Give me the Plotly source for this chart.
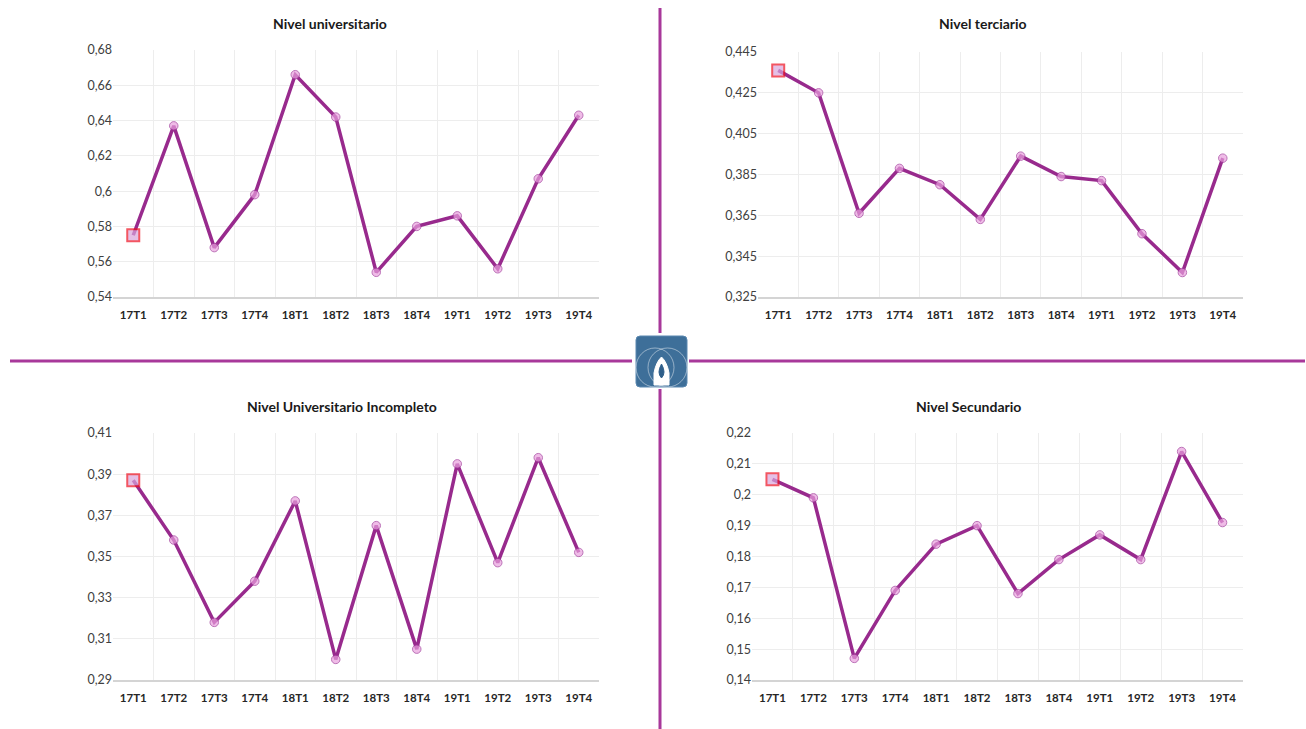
"""Four-panel line chart: ratio by education level, 2017-2019 quarters."""

import plotly.graph_objects as go

W, H = 1306, 729

quarters = ["17T1", "17T2", "17T3", "17T4", "18T1", "18T2",
            "18T3", "18T4", "19T1", "19T2", "19T3", "19T4"]

universitario = [0.575, 0.637, 0.568, 0.598, 0.666, 0.642,
                 0.554, 0.580, 0.586, 0.556, 0.607, 0.643]
terciario = [0.436, 0.425, 0.366, 0.388, 0.380, 0.363,
             0.394, 0.384, 0.382, 0.356, 0.337, 0.393]
univ_incompleto = [0.387, 0.358, 0.318, 0.338, 0.377, 0.300,
                   0.365, 0.305, 0.395, 0.347, 0.398, 0.352]
secundario = [0.205, 0.199, 0.147, 0.169, 0.184, 0.190,
              0.168, 0.179, 0.187, 0.179, 0.214, 0.191]

titles = ["Nivel universitario", "Nivel terciario",
          "Nivel Universitario Incompleto", "Nivel Secundario"]

PURPLE = "#982A8D"
DIVIDER = "#A8389A"


def px(x, y):
    """Pixel position -> paper coordinates."""
    return x / W, 1 - y / H


# panel boxes in pixels: left, right, top, bottom; y range; dtick
panels = [
    (universitario, (113, 599, 50, 297), (0.54, 0.68), 0.02, 0.54),
    (terciario, (758, 1243, 52, 297), (0.325, 0.445), 0.02, 0.325),
    (univ_incompleto, (113, 599, 433, 680), (0.29, 0.41), 0.02, 0.29),
    (secundario, (752, 1243, 433, 680), (0.14, 0.22), 0.01, 0.14),
]
title_pos = [(330, 23), (983, 23), (342, 406), (968, 406)]

fig = go.Figure()
n = len(quarters)
symbols = ["square"] + ["circle"] * (n - 1)
sizes = [12] + [8.5] * (n - 1)
fills = ["#D9A6DC"] + ["#E9A0DE"] * (n - 1)
edges = ["#EE1020"] + ["#A0389A"] * (n - 1)
edge_w = [2] + [1] * (n - 1)

layout_axes = {}
for i, (vals, box, yr, dt, t0) in enumerate(panels, start=1):
    l, r, t, b = box
    x0, y1 = px(l, t)
    x1, y0 = px(r, b)
    xa = "x" if i == 1 else f"x{i}"
    ya = "y" if i == 1 else f"y{i}"
    fig.add_trace(go.Scatter(
        x=quarters, y=vals, xaxis=xa, yaxis=ya, mode="lines+markers",
        line=dict(color=PURPLE, width=3.5),
        marker=dict(symbol=symbols, size=sizes, color=fills,
                    line=dict(color=edges, width=edge_w)),
        showlegend=False, cliponaxis=False,
    ))
    layout_axes[f"xaxis{i if i > 1 else ''}"] = dict(
        domain=[x0, x1], anchor=ya, type="category", tickson="boundaries",
        range=[-0.5, n - 0.5], autorange=False,
        showgrid=True, gridcolor="#EDEDED", gridwidth=1,
        showline=True, linecolor="#D4D4D4", linewidth=1.5, ticks="",
        ticklabelstandoff=6,
        tickfont=dict(family="Lato", size=11.5, color="#262626", weight="bold"),
        fixedrange=True, automargin=False,
    )
    layout_axes[f"yaxis{i if i > 1 else ''}"] = dict(
        domain=[y0, y1], anchor=xa, range=list(yr), tick0=t0, dtick=dt,
        showgrid=True, gridcolor="#EDEDED", gridwidth=1, zeroline=False,
        tickfont=dict(family="Lato", size=12.5, color="#404040"),
        ticks="", fixedrange=True, automargin=False,
    )

fig.update_layout(**layout_axes)

for text, (cx, cy) in zip(titles, title_pos):
    ax, ay = px(cx, cy)
    fig.add_annotation(
        text=f"<b>{text}</b>", x=ax, y=ay, xref="paper", yref="paper",
        showarrow=False, xanchor="center", yanchor="middle",
        font=dict(family="Lato", size=14, color="#1A1A1A"),
    )

# divider cross
shapes = []
for seg in [((660, 8), (660, 333)), ((660, 389), (660, 729)),
            ((10, 361), (632, 361)), ((689, 361), (1305, 361))]:
    (xa0, ya0), (xa1, ya1) = seg
    p0, p1 = px(xa0, ya0), px(xa1, ya1)
    shapes.append(dict(type="line", xref="paper", yref="paper",
                       x0=p0[0], y0=p0[1], x1=p1[0], y1=p1[1],
                       line=dict(color=DIVIDER, width=3)))

# logo tile (rounded square)
def pt(x, y):
    a, b = px(x, y)
    return f"{a},{b}"


rr = 4
L, R, T, B = 636, 687, 336, 387
tile = (f"M {pt(L + rr, T)} L {pt(R - rr, T)} Q {pt(R, T)} {pt(R, T + rr)} "
        f"L {pt(R, B - rr)} Q {pt(R, B)} {pt(R - rr, B)} "
        f"L {pt(L + rr, B)} Q {pt(L, B)} {pt(L, B - rr)} "
        f"L {pt(L, T + rr)} Q {pt(L, T)} {pt(L + rr, T)} Z")
shapes.append(dict(type="path", xref="paper", yref="paper", path=tile,
                   fillcolor="#3E6F99", line=dict(color="#5A88B0", width=1)))
lx0, ly1 = px(L, T)
lx1, ly0 = px(R, B)
for cx, cy, rad in [(650, 372, 24), (672, 372, 24)]:
    c0 = px(cx - rad, cy - rad)
    c1 = px(cx + rad, cy + rad)
    shapes.append(dict(type="circle", xref="paper", yref="paper",
                       x0=max(c0[0], lx0), y0=max(c1[1], ly0),
                       x1=min(c1[0], lx1), y1=min(c0[1], ly1),
                       line=dict(color="rgba(255,255,255,0.45)", width=1)))
shapes.append(dict(type="path", xref="paper", yref="paper",
                   path=(f"M {pt(654, 385)} L {pt(654, 373)} "
                         f"Q {pt(656, 362)} {pt(661.5, 357)} "
                         f"Q {pt(667, 362)} {pt(669, 373)} "
                         f"L {pt(669, 385)} Z"),
                   fillcolor="white", line=dict(color="white", width=1)))
shapes.append(dict(type="path", xref="paper", yref="paper",
                   path=(f"M {pt(661.5, 364)} Q {pt(656.5, 373)} {pt(661.5, 378)} "
                         f"Q {pt(666.5, 373)} {pt(661.5, 364)} Z"),
                   fillcolor="#2F5F8A", line=dict(color="#2F5F8A", width=1)))
fig.update_layout(shapes=shapes)

fig.update_layout(
    width=W, height=H,
    margin=dict(l=0, r=0, t=0, b=0, autoexpand=False),
    paper_bgcolor="white", plot_bgcolor="white",
    separators=",.",
    font=dict(family="Lato"),
)

fig.write_html(
    "out.html",
    config={"displayModeBar": False},
    post_script=("document.body.style.margin='0';"
                 "document.body.style.overflow='hidden';"),
)
